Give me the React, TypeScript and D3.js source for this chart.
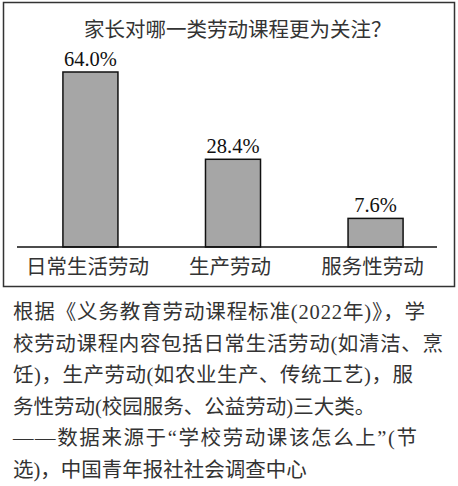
import React from "react";
import * as d3 from "d3";

const categories = ["日常生活劳动", "生产劳动", "服务性劳动"];
const values = [64.0, 28.4, 7.6];
const valueLabels = ["64.0%", "28.4%", "7.6%"];
const title = "家长对哪一类劳动课程更为关注？";
const noteLines = [
  "根据《义务教育劳动课程标准(2022年)》，学",
  "校劳动课程内容包括日常生活劳动(如清洁、烹",
  "饪)，生产劳动(如农业生产、传统工艺)，服",
  "务性劳动(校园服务、公益劳动)三大类。",
  "——数据来源于\u201C学校劳动课该怎么上\u201D(节",
  "选)，中国青年报社社会调查中心",
];
const noteWidths = [412, 430, 400, null, 404, null];

const W = 458;
const H = 486;
const FONT = "'Liberation Serif', 'Noto Sans CJK SC', serif";

export default function App() {
  const baseY = 247;
  const x = d3
    .scaleBand<string>()
    .domain(categories)
    .range([23, 443])
    .paddingInner(0.614)
    .paddingOuter(0.28);
  const y = d3.scalePow().exponent(0.85).domain([0, 64]).range([baseY, 72]);

  return (
    <svg
      width={W}
      height={H}
      style={{ position: "absolute", left: 0, top: 0, background: "#fff" }}
      fontFamily={FONT}
    >
      <rect x={0} y={0} width={W} height={H} fill="#fff" />
      <rect x={3.5} y={2.5} width={451} height={284} fill="none" stroke="#333" strokeWidth={1.5} />
      <text x={84} y={37} fontSize={20.5} fill="#333" fontFamily="'Noto Sans CJK SC', sans-serif">
        {title}
      </text>
      {categories.map((c, i) => (
        <g key={c}>
          <rect
            x={x(c)!}
            y={y(values[i])}
            width={x.bandwidth()}
            height={baseY - y(values[i])}
            fill="#a6a6a6"
            stroke="#111"
            strokeWidth={1.5}
          />
          <text
            x={x(c)! + x.bandwidth() / 2}
            y={y(values[i]) - 6}
            textAnchor="middle"
            fontSize={20.5}
            fill="#111"
          >
            {valueLabels[i]}
          </text>
          <text
            x={x(c)! + x.bandwidth() / 2 - 3}
            y={274}
            textAnchor="middle"
            fontSize={20.5}
            fill="#333"
          >
            {c}
          </text>
        </g>
      ))}
      <line x1={17} x2={437} y1={baseY} y2={baseY} stroke="#111" strokeWidth={1.5} />
      {noteLines.map((l, i) => (
        <text
          key={i}
          x={13}
          y={319 + i * 31.6}
          fontSize={20.5}
          fill="#333"
          {...(noteWidths[i] ? { textLength: noteWidths[i] as number, lengthAdjust: "spacing" } : {})}
        >
          {l}
        </text>
      ))}
    </svg>
  );
}
